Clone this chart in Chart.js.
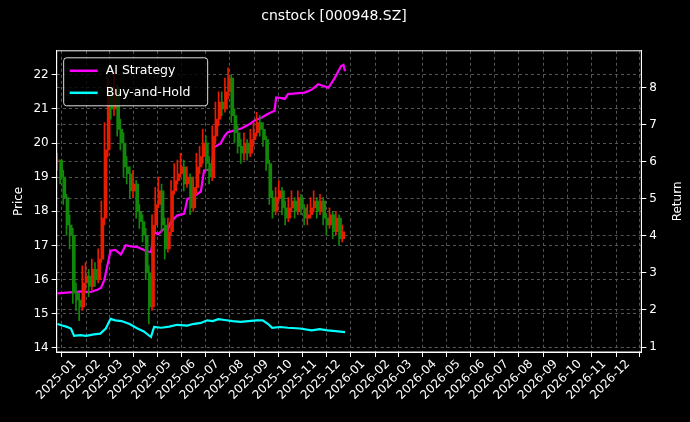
<!DOCTYPE html>
<html><head><meta charset="utf-8">
<script src="https://cdn.jsdelivr.net/npm/chart.js@4"></script>
<style>html,body{margin:0;background:#000}#w{width:690px;height:422px}</style>
</head><body><div id="w"><canvas id="c"></canvas></div>
<script>
const tickLabels=['2025-01','2025-02','2025-03','2025-04','2025-05','2025-06','2025-07','2025-08','2025-09','2025-10','2025-11','2025-12','2026-01','2026-02','2026-03','2026-04','2026-05','2026-06','2026-07','2026-08','2026-09','2026-10','2026-11','2026-12'];
const candleDays=[-21,-17,-13,-9,-5,-1,3,7,11,15,19,23,27,31,35,39,43,47,51,55,59,63,67,71,75,79,83,87,91,95,99,103,107,111,115,119,123,127,131,135,139,143,147,151,155,159,163,167,171,175,179,183,187,191,195,199,203,207,211,215,219,223,227,231,235,239,243,247,251,255,259,263,267,271,275,279,283,287,291,295,299,303,307,311,315,319,323,327,331,335,339];
const closes=[19.5,19.0,18.4,17.6,17.3,15.6,15.4,15.2,15.9,16.1,15.8,16.3,16.0,16.6,17.8,19.8,21.4,21.0,21.6,20.4,20.0,19.3,19.1,18.6,18.8,18.0,17.7,17.3,16.2,15.2,17.6,18.2,18.6,17.6,16.9,17.4,18.6,18.9,19.1,19.3,18.8,19.0,18.1,18.7,19.3,19.6,20.0,19.4,19.0,20.2,20.7,21.2,21.0,21.5,21.9,20.8,20.3,19.9,19.7,20.0,19.7,20.1,20.3,20.6,20.4,20.1,19.4,18.4,18.0,18.4,18.6,18.1,17.8,18.1,18.3,18.0,18.4,18.1,17.8,17.9,18.1,18.3,18.0,18.3,17.8,17.6,17.9,17.4,17.8,17.2,17.4];
const highs=[19.7,19.5,19.2,18.5,17.9,17.5,15.9,15.6,16.4,16.5,16.3,16.6,16.5,16.9,18.3,20.6,21.9,21.6,22.1,21.7,20.7,20.3,19.6,19.3,19.2,18.9,18.2,17.9,17.5,16.4,17.9,18.7,19.0,18.8,17.8,17.8,18.9,19.4,19.5,19.7,19.5,19.3,19.1,19.0,19.7,19.9,20.4,20.2,19.6,20.5,21.2,21.5,21.5,21.9,22.2,22.0,21.0,20.5,20.1,20.3,20.1,20.4,20.6,20.9,20.8,20.6,20.2,19.5,18.6,18.7,18.9,18.7,18.3,18.4,18.6,18.4,18.6,18.5,18.2,18.2,18.4,18.6,18.4,18.5,18.4,17.9,18.1,18.0,18.0,17.9,17.6];
const lows=[19.2,18.8,18.2,17.3,16.9,15.3,15.1,14.8,15.1,15.7,15.5,15.7,15.8,15.9,16.5,17.6,19.6,20.7,20.8,20.2,19.8,19.0,18.8,18.4,18.4,17.8,17.5,17.1,16.0,14.7,15.1,17.4,18.1,17.4,16.6,16.8,17.3,18.5,18.8,19.0,18.6,18.7,17.9,18.0,18.5,19.1,19.4,19.2,18.8,18.9,20.0,20.5,20.8,20.9,21.3,20.6,20.0,19.7,19.4,19.5,19.5,19.6,19.9,20.2,20.2,19.9,19.2,18.2,17.8,17.9,18.3,17.9,17.6,17.7,18.0,17.8,17.9,17.9,17.6,17.6,17.8,18.0,17.8,17.9,17.6,17.3,17.5,17.2,17.3,17.0,17.1];
const aiDays=[-21,10,20,30,34,38,46,52,59,65,72,80,90,97,101,106,114,118,122,130,139,143,150,160,164,173,177,185,190,194,203,211,220,228,237,245,253,255,262,266,270,280,291,300,308,315,321,329,337,340,342];
const aiReturn=[2.45,2.5,2.48,2.55,2.6,2.8,3.6,3.62,3.5,3.75,3.72,3.7,3.6,3.56,4.1,4.05,4.2,4.15,4.38,4.55,4.6,5.0,5.05,5.2,5.77,5.8,6.4,6.5,6.7,6.8,6.85,6.9,7.0,7.12,7.2,7.3,7.38,7.74,7.72,7.7,7.83,7.85,7.87,7.95,8.1,8.05,8.0,8.27,8.59,8.62,8.45];
const bhDays=[-21,-15,-10,-4,0,8,15,25,33,40,46,52,60,70,80,88,97,101,110,120,130,143,150,160,168,175,182,190,200,210,220,230,238,245,250,260,270,285,300,310,320,330,342];
const bhReturn=[1.62,1.58,1.55,1.5,1.3,1.32,1.3,1.34,1.36,1.5,1.76,1.72,1.7,1.62,1.5,1.42,1.27,1.54,1.52,1.55,1.6,1.58,1.62,1.65,1.72,1.7,1.75,1.73,1.7,1.68,1.7,1.72,1.72,1.62,1.52,1.54,1.52,1.5,1.45,1.48,1.45,1.43,1.4];

const base=Date.UTC(2025,0,1);
const tickDays=tickLabels.map(s=>{const [y,m]=s.split('-').map(Number);return (Date.UTC(y,m-1,1)-base)/86400000;});
const opens=closes.map((c,i)=>i?closes[i-1]:c);
const col=closes.map((c,i)=>c>=opens[i]?'#e81c00':'#12880a');
const font={family:'DejaVu Sans',size:12};

const legendPlugin={id:'lg',afterDraw(ch){const a=ch.chartArea,x=ch.ctx;x.save();
 x.strokeStyle='#ddd';x.lineWidth=1;x.fillStyle='rgba(0,0,0,0.8)';
 const bx=a.left+7,by=a.top+7,bw=144,bh=48;x.beginPath();x.roundRect(bx,by,bw,bh,3);x.fill();x.stroke();
 const items=[[ch.data.datasets[2].label,'#ff00ff'],[ch.data.datasets[3].label,'#00ffff']];
 x.font='12.5px DejaVu Sans';x.textBaseline='middle';
 items.forEach((it,i)=>{const yy=by+13+i*22;x.strokeStyle=it[1];x.lineWidth=2.5;x.beginPath();x.moveTo(bx+6,yy);x.lineTo(bx+34,yy);x.stroke();x.fillStyle='#fff';x.fillText(it[0],bx+42,yy);});
 x.strokeStyle='#fff';x.lineWidth=1;x.strokeRect(a.left,a.top,a.right-a.left,a.bottom-a.top);
 x.translate(a.right+37,(a.top+a.bottom)/2);x.rotate(-Math.PI/2);x.textAlign='center';x.fillStyle='#fff';x.font='12px DejaVu Sans';x.fillText('Return',0,0);
 x.restore();}};

new Chart(document.getElementById('c'),{
 data:{datasets:[
  {type:'bar',label:'wick',data:candleDays.map((d,i)=>({x:d,y:[lows[i],highs[i]]})),backgroundColor:col,barThickness:1,yAxisID:'y'},
  {type:'bar',label:'body',data:candleDays.map((d,i)=>({x:d,y:[opens[i],closes[i]]})),backgroundColor:col,barThickness:2,yAxisID:'y'},
  {type:'line',label:'AI Strategy',data:aiDays.map((d,i)=>({x:d,y:aiReturn[i]})),borderColor:'#ff00ff',borderWidth:2.2,pointRadius:0,tension:0,yAxisID:'y1'},
  {type:'line',label:'Buy-and-Hold',data:bhDays.map((d,i)=>({x:d,y:bhReturn[i]})),borderColor:'#00ffff',borderWidth:2.2,pointRadius:0,tension:0,yAxisID:'y1'}
 ]},
 options:{responsive:true,maintainAspectRatio:false,animation:false,
  layout:{padding:{left:8,right:30,top:0,bottom:0}},
  plugins:{legend:{display:false},tooltip:{enabled:false},
   title:{display:true,text:'cnstock [000948.SZ]',color:'#fff',font:{family:'DejaVu Sans',size:14,weight:'normal'},padding:{top:8,bottom:26}}},
  scales:{
   x:{type:'linear',min:-22,max:716,offset:false,
    afterBuildTicks(s){s.ticks=tickDays.map(v=>({value:v}));},
    afterFit(s){s.height=70;},
    ticks:{color:'#fff',font,maxRotation:45,minRotation:45,autoSkip:false,padding:0,callback:(v)=>{const i=tickDays.indexOf(v);return i>=0?tickLabels[i]:'';}},
    grid:{color:'#555',tickColor:'#fff',tickLength:5},border:{color:'#fff',dash:[3,3]}},
   y:{position:'left',min:13.88,max:22.7,
    afterBuildTicks(s){s.ticks=[14,15,16,17,18,19,20,21,22].map(v=>({value:v}));},
    ticks:{color:'#fff',font},title:{display:true,text:'Price',color:'#fff',font},
    grid:{color:'#555',tickColor:'#fff',tickLength:5},border:{color:'#fff',dash:[3,3]}},
   y1:{position:'right',min:0.865,max:9.0,
    afterBuildTicks(s){s.ticks=[1,2,3,4,5,6,7,8].map(v=>({value:v}));},
    ticks:{color:'#fff',font},
    grid:{color:'#555',tickColor:'#fff',tickLength:5},border:{color:'#fff',dash:[3,3]}}
  }}
 ,plugins:[legendPlugin]});
</script></body></html>
